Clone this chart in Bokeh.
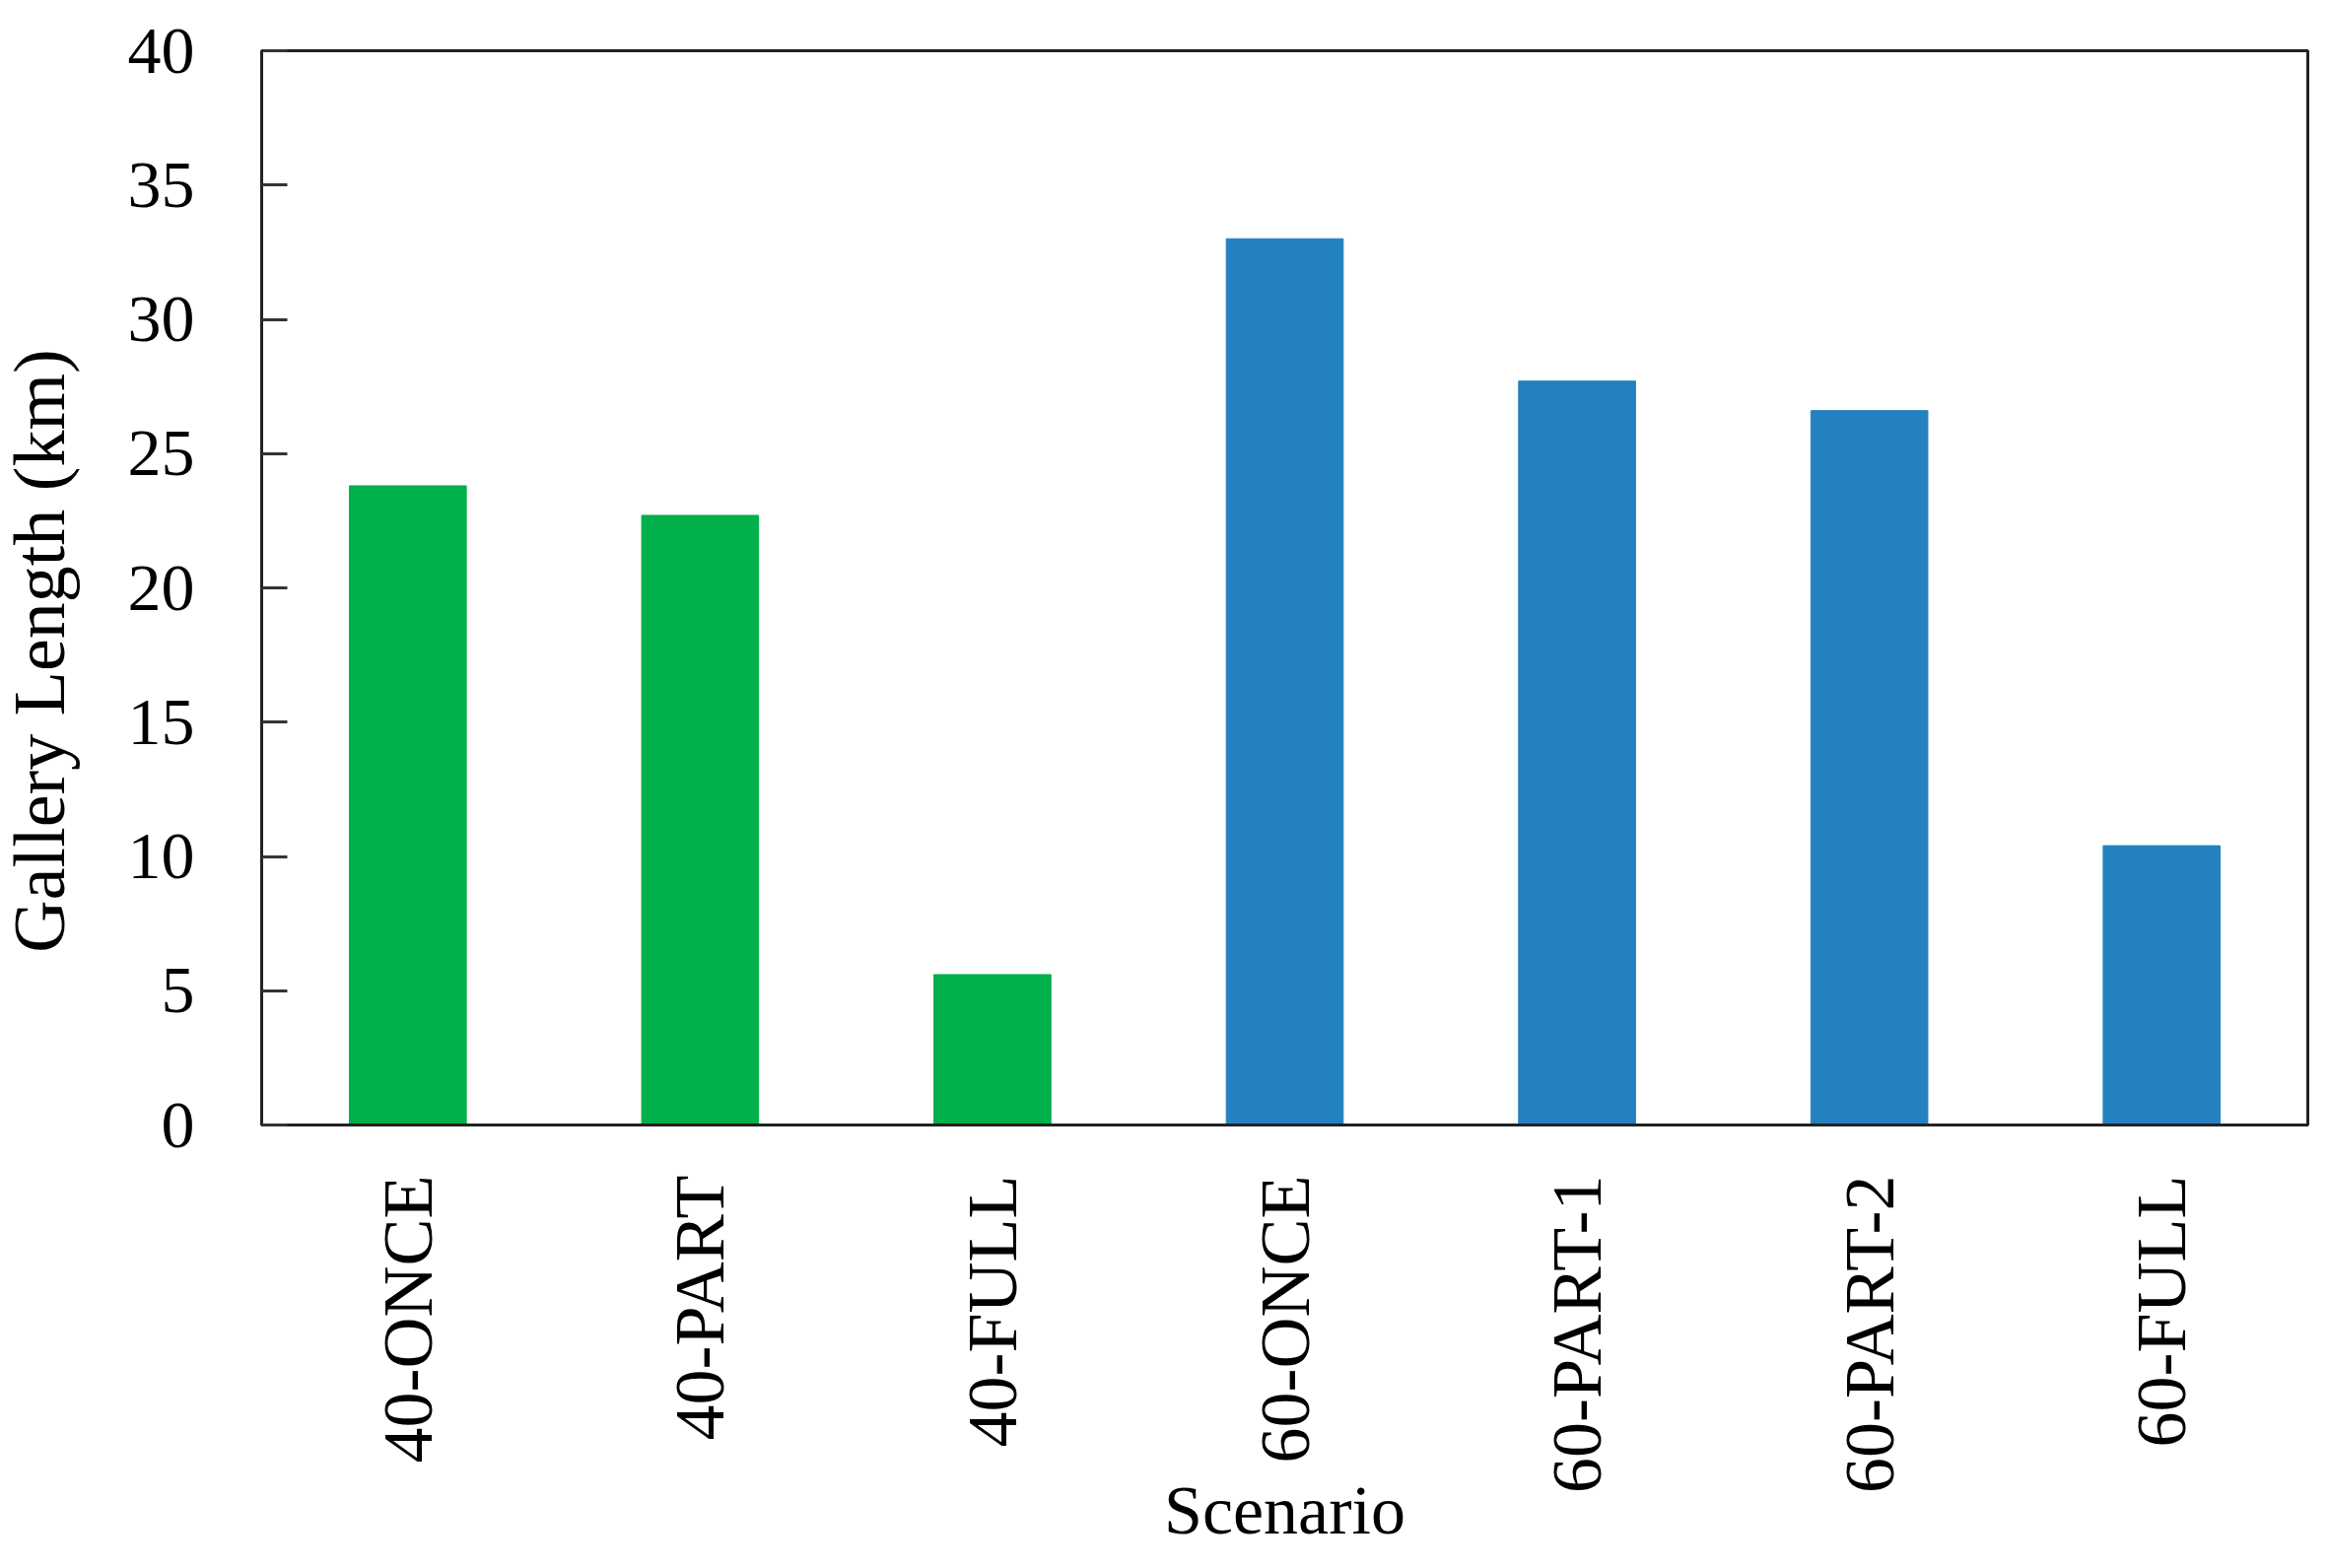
import math
from bokeh.plotting import figure
from bokeh.layouts import row
from bokeh.models import ColumnDataSource, FactorRange, Range1d, FixedTicker
from bokeh.embed import file_html
from bokeh.resources import INLINE

scenarios = ["40-ONCE", "40-PART", "40-FULL", "60-ONCE", "60-PART-1", "60-PART-2", "60-FULL"]
lengths = [23.8, 22.7, 5.6, 33.0, 27.7, 26.6, 10.4]
colors = ["#00b04a", "#00b04a", "#00b04a", "#2481c0", "#2481c0", "#2481c0", "#2481c0"]
y_ticks = [0, 5, 10, 15, 20, 25, 30, 35, 40]
y_title = "Gallery Length (km)"

FONT = "Liberation Serif"
W_LABEL = 100
H = 1575

# narrow strip holding the y-axis title (placed a little below centre, as in the original)
lab = figure(width=W_LABEL, height=H, x_range=Range1d(0, W_LABEL), y_range=Range1d(0, H),
             x_axis_type=None, y_axis_type=None, output_backend="svg",
             toolbar_location=None, min_border=0)
lab.outline_line_color = None
lab.grid.visible = False
lab.text(x=[39], y=[695], text=[y_title], angle=math.pi / 2,
         text_font="Liberation Serif", text_font_size="74px", text_color="black",
         text_align="center", text_baseline="middle")

source = ColumnDataSource(data=dict(scenario=scenarios, length=lengths, color=colors))

p = figure(
    width=2348 - W_LABEL, height=H,
    x_range=FactorRange(factors=scenarios, range_padding=0),
    y_range=Range1d(0, 40),
    output_backend="svg", toolbar_location=None,
    min_border_left=265 - W_LABEL, min_border_right=7, min_border_top=51, min_border_bottom=434,
)

p.vbar(x="scenario", top="length", width=0.4, source=source,
       fill_color="color", line_color="color", line_width=1)

p.grid.visible = False
p.outline_line_color = "#222222"
p.outline_line_width = 3

# y axis
ya = p.yaxis[0]
ya.ticker = FixedTicker(ticks=y_ticks)
ya.major_tick_in = 26
ya.major_tick_out = 0
ya.minor_tick_line_color = None
ya.major_tick_line_color = "#333333"
ya.major_tick_line_width = 3
ya.axis_line_color = "#222222"
ya.axis_line_width = 3
ya.major_label_text_font = FONT
ya.major_label_text_font_size = "68px"
ya.major_label_text_color = "black"
ya.major_label_standoff = 68

# x axis
xa = p.xaxis[0]
xa.major_tick_line_color = None
xa.minor_tick_line_color = None
xa.axis_line_color = "#222222"
xa.axis_line_width = 3
xa.major_label_orientation = math.pi / 2
xa.major_label_text_font = FONT
xa.major_label_text_font_size = "72px"
xa.major_label_text_color = "black"
xa.major_label_standoff = 45
xa.axis_label = "Scenario"
xa.axis_label_text_font = FONT
xa.axis_label_text_font_size = "70px"
xa.axis_label_text_font_style = "normal"
xa.axis_label_text_color = "black"
xa.axis_label_standoff = -24

layout = row(lab, p, spacing=0)

open("out.html", "w").write(file_html(layout, INLINE))
